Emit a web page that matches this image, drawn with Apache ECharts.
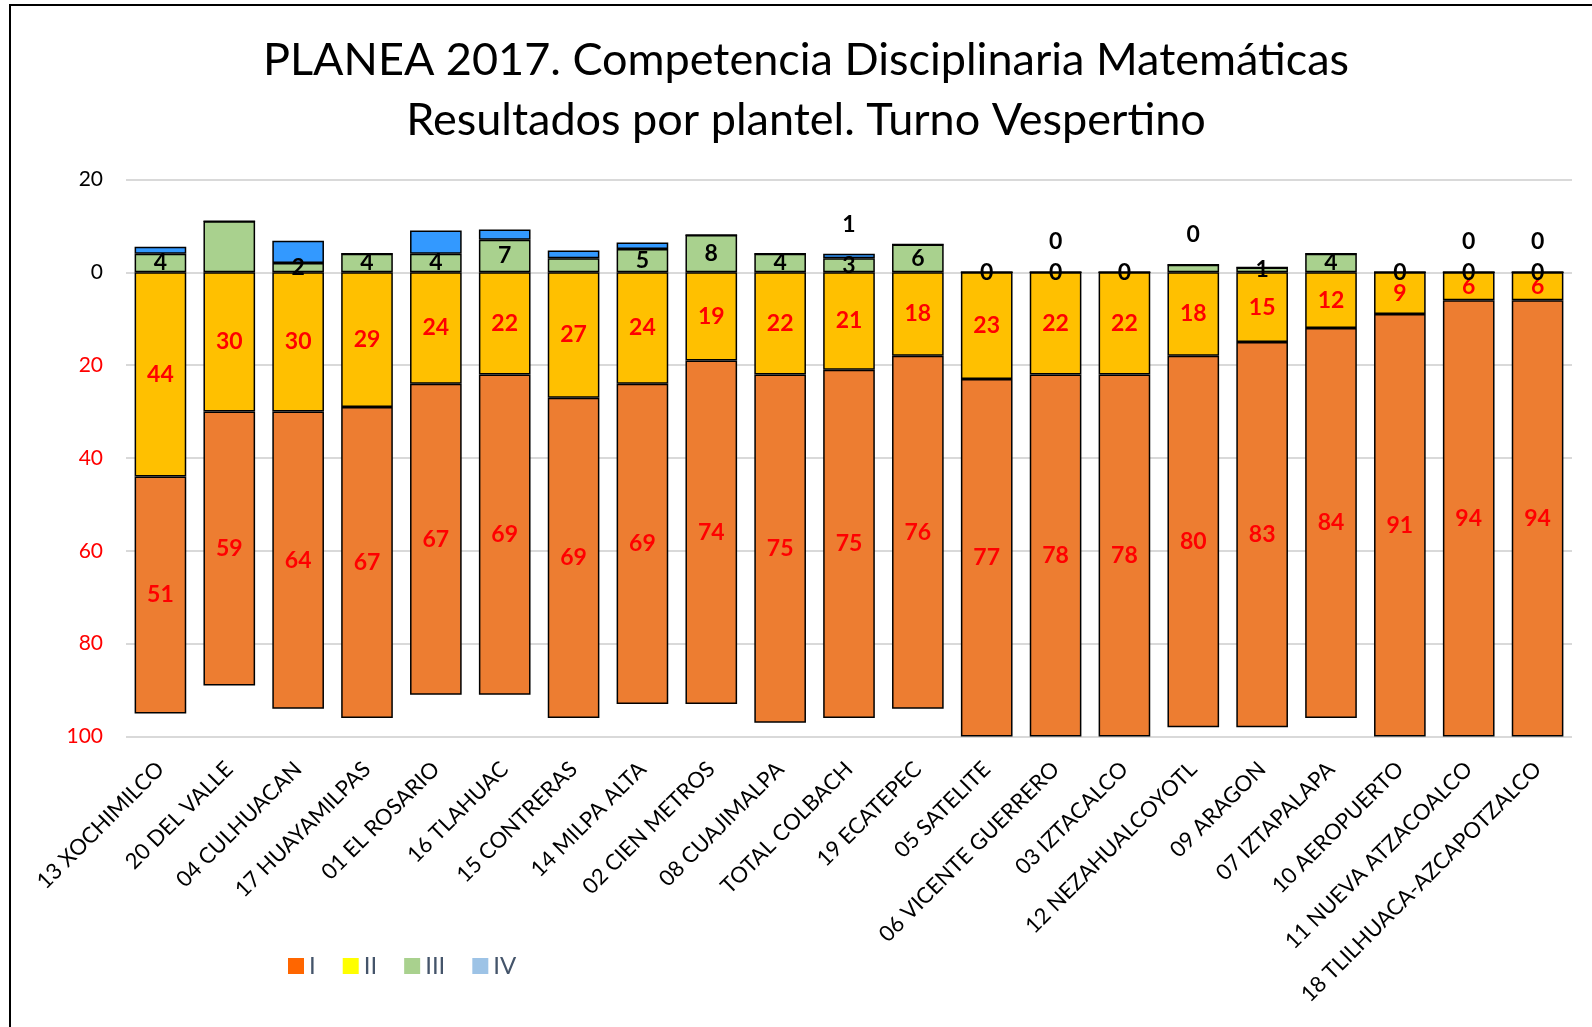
<!DOCTYPE html>
<html>
<head>
<meta charset="utf-8">
<title>PLANEA 2017 Matemáticas – Turno Vespertino</title>
<script src="https://cdn.jsdelivr.net/npm/echarts@6/dist/echarts.min.js"></script>
<style>
  html, body { margin: 0; padding: 0; background: #fff; }
  #chart { width: 1592px; height: 1027px; }
</style>
</head>
<body>
<div id="chart"></div>
<script>
// Planteles (orden de la gráfica)
const planteles = [
  '13 XOCHIMILCO', '20 DEL VALLE', '04 CULHUACAN', '17 HUAYAMILPAS', '01 EL ROSARIO',
  '16 TLAHUAC', '15 CONTRERAS', '14 MILPA ALTA', '02 CIEN METROS', '08 CUAJIMALPA',
  'TOTAL COLBACH', '19 ECATEPEC', '05 SATELITE', '06 VICENTE GUERRERO', '03 IZTACALCO',
  '12 NEZAHUALCOYOTL', '09 ARAGON', '07 IZTAPALAPA', '10 AEROPUERTO',
  '11 NUEVA ATZACOALCO', '18 TLILHUACA-AZCAPOTZALCO'
];

// Porcentaje de alumnos por nivel de logro
const nivelI   = [51, 59, 64, 67, 67, 69, 69, 69, 74, 75, 75, 76, 77, 78, 78, 80, 83, 84, 91, 94, 94];
const nivelII  = [44, 30, 30, 29, 24, 22, 27, 24, 19, 22, 21, 18, 23, 22, 22, 18, 15, 12, 9, 6, 6];
const nivelIII = [4, 11, 2, 4, 4, 7, 3, 5, 8, 4, 3, 6, 0, 0, 0, 1.6, 1, 4, 0, 0, 0];
const nivelIV  = [1.5, 0, 4.8, 0, 5, 2.2, 1.7, 1.4, 0, 0, 1, 0, 0, 0, 0, 0, 0, 0, 0, 0, 0];

// Etiquetas visibles de los niveles III y IV
const etiquetaIII = [1, 0, 1, 1, 1, 1, 0, 1, 1, 1, 1, 1, 1, 1, 1, 0, 1, 1, 1, 1, 1];
const etiquetaIV  = [0, 0, 0, 0, 0, 0, 0, 0, 0, 0, 1, 0, 0, 1, 0, 1, 0, 0, 0, 1, 1];

// Marcas del eje vertical
const ejeMin = -20, ejeMax = 100, ejeIntervalo = 20;

const FONT = 'Lato';
const abs = v => Math.abs(Number(v));

const etiquetaRoja = {
  show: true, position: 'inside', color: '#FF0000',
  fontFamily: FONT, fontWeight: 'bold', fontSize: 23,
  formatter: p => abs(p.value)
};

const chart = echarts.init(document.getElementById('chart'), null, { renderer: 'canvas' });

chart.setOption({
  animation: false,
  backgroundColor: '#ffffff',
  title: {
    text: 'PLANEA 2017. Competencia Disciplinaria Matemáticas\nResultados por plantel. Turno Vespertino',
    left: 801,
    top: 25,
    textAlign: 'center',
    textStyle: { fontFamily: FONT, fontWeight: 'normal', fontSize: 45, lineHeight: 60, color: '#000' }
  },
  graphic: [{
    type: 'rect',
    shape: { x: 10, y: 5, width: 1700, height: 1200 },
    style: { fill: 'none', stroke: '#000', lineWidth: 2 },
    silent: true
  }],
  legend: {
    left: 283, top: 949,
    itemWidth: 16, itemHeight: 16, itemGap: 27,
    icon: 'rect',
    textStyle: { fontFamily: FONT, fontSize: 24, color: '#44546A' },
    data: [
      { name: 'I',   itemStyle: { color: '#FF6600', borderWidth: 0 } },
      { name: 'II',  itemStyle: { color: '#FFFF00', borderWidth: 0 } },
      { name: 'III', itemStyle: { color: '#A9D18E', borderWidth: 0 } },
      { name: 'IV',  itemStyle: { color: '#9DC3E6', borderWidth: 0 } }
    ]
  },
  grid: { left: 126, right: 20, top: 179.4, bottom: 290.4, containLabel: false, outerBoundsMode: 'none' },
  xAxis: {
    type: 'category',
    data: planteles,
    axisLine: { show: false },
    axisTick: { show: false },
    axisLabel: {
      interval: 0, rotate: 45, margin: 29,
      fontFamily: FONT, fontSize: 22, color: '#000'
    }
  },
  yAxis: {
    type: 'value',
    inverse: true,
    min: ejeMin, max: ejeMax, interval: ejeIntervalo,
    axisLine: { show: false },
    axisTick: { show: false },
    splitLine: { lineStyle: { color: '#D9D9D9', width: 2 } },
    axisLabel: {
      margin: 23,
      fontFamily: FONT, fontSize: 21,
      formatter: v => abs(v),
      color: v => (Number(v) <= 0 ? '#000000' : '#FF0000')
    }
  },
  series: [
    {
      name: 'II', type: 'bar', stack: 'abajo', barWidth: '75%',
      data: nivelII,
      itemStyle: { color: '#FFC000', borderColor: '#000', borderWidth: 1.5 },
      label: etiquetaRoja
    },
    {
      name: 'I', type: 'bar', stack: 'abajo', barWidth: '75%',
      data: nivelI,
      itemStyle: { color: '#ED7D31', borderColor: '#000', borderWidth: 1.5 },
      label: etiquetaRoja
    },
    {
      name: 'III', type: 'bar', stack: 'arriba', barWidth: '75%',
      data: nivelIII.map((v, i) => ({ value: -v, label: { show: !!etiquetaIII[i] } })),
      itemStyle: { color: '#A9D18E', borderColor: '#000', borderWidth: 1.5 },
      label: {
        position: 'inside', color: '#000',
        fontFamily: FONT, fontWeight: 'bold', fontSize: 23,
        formatter: p => abs(p.value)
      }
    },
    {
      name: 'IV', type: 'bar', stack: 'arriba', barWidth: '75%', barGap: '-100%',
      data: nivelIV.map((v, i) => ({ value: -v, label: { show: !!etiquetaIV[i] } })),
      itemStyle: { color: '#3399FF', borderColor: '#000', borderWidth: 1.5 },
      label: {
        position: 'top', distance: 18, color: '#000',
        fontFamily: FONT, fontWeight: 'bold', fontSize: 23,
        formatter: p => abs(p.value)
      }
    }
  ]
});
</script>
</body>
</html>
